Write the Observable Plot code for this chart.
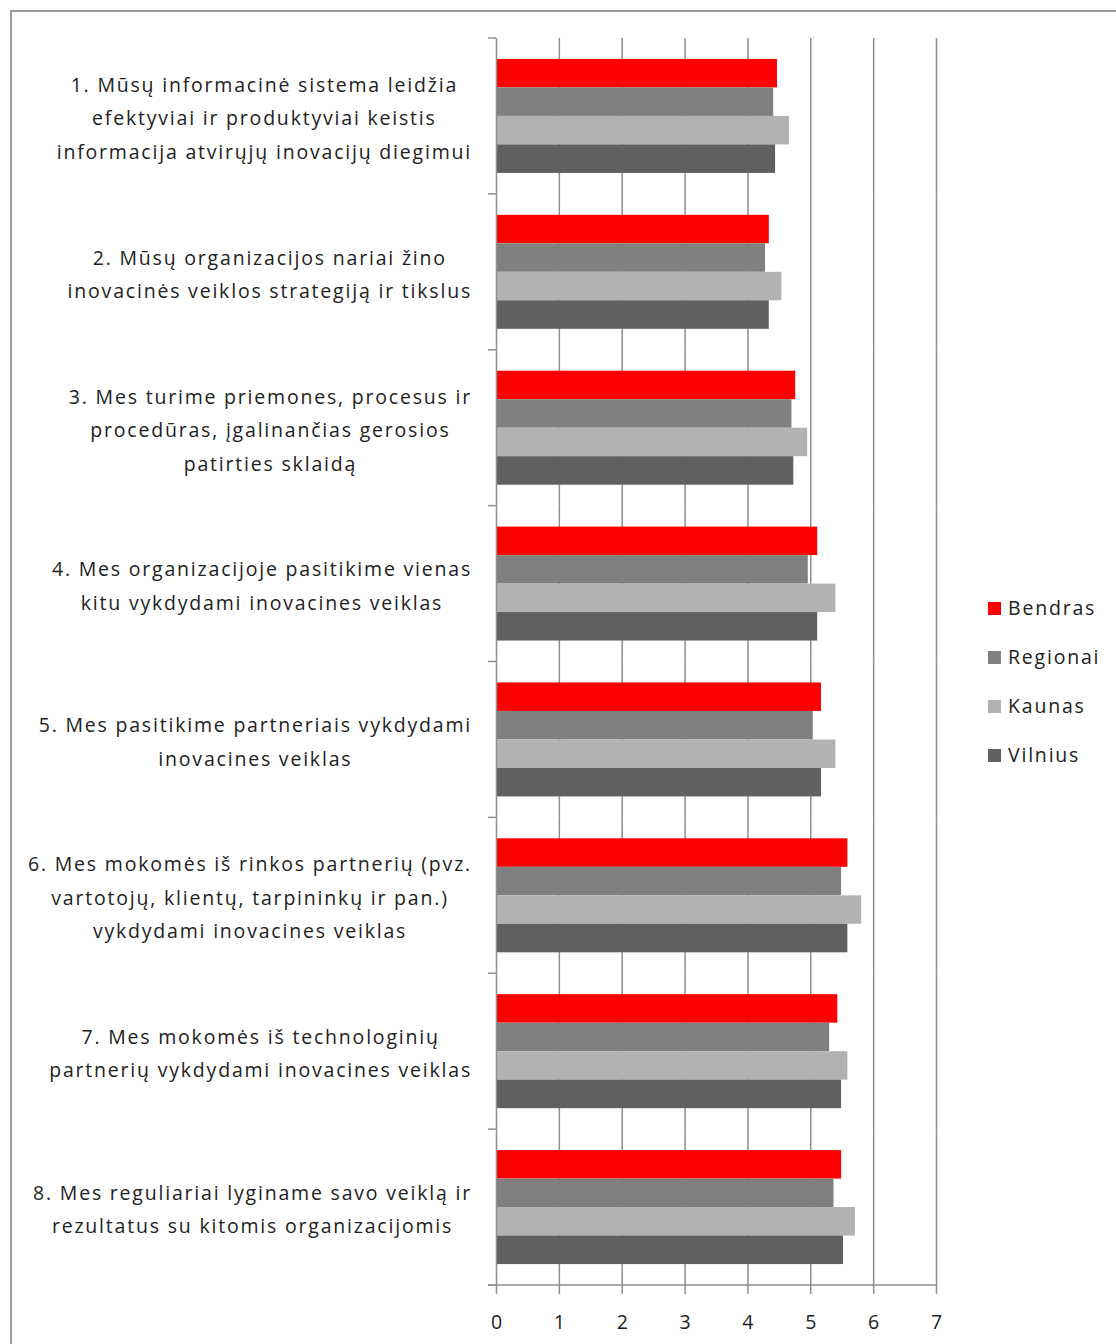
<!DOCTYPE html>
<html>
<head>
<meta charset="utf-8">
<script src="https://cdn.jsdelivr.net/npm/d3@7"></script>
<script src="https://cdn.jsdelivr.net/npm/@observablehq/plot@0.6"></script>
<style>
  html, body { margin: 0; padding: 0; background: #fff; overflow: hidden; }
  body { width: 1116px; height: 1344px; position: relative; font-family: "Open Sans", sans-serif; }
  #frame { position: absolute; left: 10px; top: 10px; width: 1200px; height: 1400px; border: 2px solid #9c9c9c; box-sizing: border-box; }
  #chart { position: absolute; left: 0; top: 0; }
  #legend { position: absolute; left: 988px; top: 594px; font-size: 19.5px; color: #222; letter-spacing: 1.8px; }
  #legend .row { height: 49px; display: flex; align-items: flex-start; }
  #legend .sw { width: 13px; height: 13px; margin-top: 8px; margin-right: 7px; }
  #legend .lab { line-height: 28px; }
</style>
</head>
<body>
<div id="frame"></div>
<div id="chart"></div>
<div id="legend"></div>
<script>
const questions = ["Q1", "Q2", "Q3", "Q4", "Q5", "Q6", "Q7", "Q8"];
const questionLabels = [
  ["1. Mūsų informacinė sistema leidžia", "efektyviai ir produktyviai keistis", "informacija atvirųjų inovacijų diegimui"],
  ["2. Mūsų organizacijos nariai žino", "inovacinės veiklos strategiją ir tikslus"],
  ["3. Mes turime priemones, procesus ir", "procedūras, įgalinančias gerosios", "patirties sklaidą"],
  ["4. Mes organizacijoje pasitikime vienas", "kitu vykdydami inovacines veiklas"],
  ["5. Mes pasitikime partneriais vykdydami", "inovacines veiklas"],
  ["6. Mes mokomės iš rinkos partnerių (pvz.", "vartotojų, klientų, tarpininkų ir pan.)", "vykdydami inovacines veiklas"],
  ["7. Mes mokomės iš technologinių", "partnerių vykdydami inovacines veiklas"],
  ["8. Mes reguliariai lyginame savo veiklą ir", "rezultatus su kitomis organizacijomis"]
];
const seriesNames = ["Bendras", "Regionai", "Kaunas", "Vilnius"];
const seriesColors = ["#ff0000", "#808080", "#b2b2b2", "#606060"];
const bendras  = [4.47, 4.34, 4.76, 5.11, 5.17, 5.59, 5.43, 5.49];
const regionai = [4.41, 4.28, 4.70, 4.96, 5.04, 5.49, 5.30, 5.37];
const kaunas   = [4.66, 4.54, 4.95, 5.40, 5.40, 5.81, 5.59, 5.71];
const vilnius  = [4.44, 4.34, 4.73, 5.11, 5.17, 5.59, 5.49, 5.52];
const xTicks = [0, 1, 2, 3, 4, 5, 6, 7];

const seriesValues = [bendras, regionai, kaunas, vilnius];
const data = [];
questions.forEach((q, i) => {
  seriesNames.forEach((s, j) => data.push({question: q, series: s, value: seriesValues[j][i]}));
});

const gridColor = "#8f8f8f";
const textColor = "#222222";

const plot = Plot.plot({
  width: 1116,
  height: 1344,
  marginLeft: 496,
  marginRight: 180,
  marginTop: 38,
  marginBottom: 59,
  style: {fontFamily: "'Open Sans', sans-serif", fontSize: "19.5px", color: textColor, background: "transparent"},
  x: {domain: [0, 7], ticks: xTicks, tickSize: 9, tickPadding: 21, tickFormat: d3.format("d"), label: null},
  y: {domain: seriesNames, paddingInner: 0, paddingOuter: 0.735, round: false, axis: null},
  fy: {domain: questions, padding: 0, round: false, axis: null},
  color: {domain: seriesNames, range: seriesColors},
  marks: [
    Plot.ruleX(xTicks.slice(1), {stroke: gridColor, strokeWidth: 1.5}),
    Plot.barX(data, {x: "value", y: "series", fy: "question", fill: "series"}),
    Plot.ruleX([0], {stroke: gridColor, strokeWidth: 1.5})
  ]
});
document.getElementById("chart").appendChild(plot);

d3.select(plot).selectAll("[aria-label='x-axis tick'] path, g[aria-label='x-axis'] line").attr("stroke", gridColor).attr("stroke-width", 1.5);
d3.select(plot).selectAll("[aria-label='x-axis tick label'] text").attr("fill", textColor);

// separators & labels positioned with Plot's own scales
const fy = plot.scale("fy");
const xs = plot.scale("x");
const x0 = xs.apply(0);
const svg = d3.select(plot);
const r0 = Math.min(...fy.range), r1 = Math.max(...fy.range);
const step = (r1 - r0) / questions.length;
const g = svg.append("g");
for (let i = 0; i <= questions.length; i++) {
  const yy = r0 + i * step;
  g.append("line").attr("x1", x0 - 8).attr("x2", x0).attr("y1", yy).attr("y2", yy)
    .attr("stroke", gridColor).attr("stroke-width", 1.5);
}
g.append("line").attr("x1", x0 - 8).attr("x2", xs.apply(7)).attr("y1", r1).attr("y2", r1)
  .attr("stroke", gridColor).attr("stroke-width", 1.5);

const lineH = 33.5;
const lg = svg.append("g").attr("font-family", "'Open Sans', sans-serif").attr("font-size", 19.5)
  .attr("fill", textColor).attr("letter-spacing", "1.8px");
questions.forEach((q, i) => {
  const lines = questionLabels[i];
  const cy = r0 + i * step + step / 2 + 2;
  const t = lg.append("text").attr("text-anchor", "middle");
  lines.forEach((ln, k) => {
    t.append("tspan").attr("x", 0).attr("y", cy + (k - (lines.length - 1) / 2) * lineH)
      .attr("dominant-baseline", "central").text(ln);
  });
  const w = t.node().getBBox().width;
  t.attr("transform", `translate(${x0 - 24 - w / 2},0)`);
});

// legend
const legend = d3.select("#legend");
seriesNames.forEach((s, j) => {
  const row = legend.append("div").attr("class", "row");
  row.append("div").attr("class", "sw").style("background", seriesColors[j]);
  row.append("div").attr("class", "lab").text(s);
});
</script>
</body>
</html>
